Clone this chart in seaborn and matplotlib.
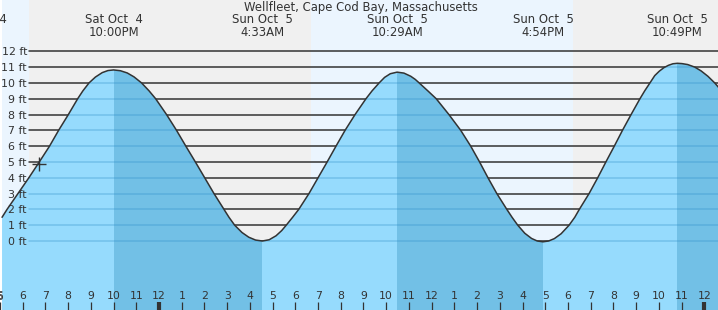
import matplotlib
matplotlib.use("Agg")
import matplotlib.pyplot as plt
import matplotlib.transforms as mtransforms
import seaborn as sns

sns.set_style("white")
plt.rcParams["font.family"] = ["DejaVu Sans"]

# ---------------- data (hours since Sat Oct 4 00:00, height in ft) ----------------
title = "Wellfleet, Cape Cod Bay, Massachusetts"

tide_hours = [17.09, 17.31, 17.79, 18.27, 18.73, 19.18, 19.58, 20.01, 20.42, 20.65,
              20.92, 21.20, 21.50, 21.75, 22.00, 22.30, 22.60, 22.90, 23.23, 23.56,
              23.85, 24.33, 24.77, 25.18, 25.60, 26.01, 26.42, 26.86, 27.08, 27.33,
              27.65, 27.95, 28.25, 28.55, 28.85, 29.15, 29.40, 29.60, 29.88, 30.15,
              30.60, 31.00, 31.40, 31.79, 32.19, 32.63, 33.11, 33.38, 33.69, 33.93,
              34.18, 34.48, 34.78, 35.08, 35.28, 35.45, 35.83, 36.20, 36.76, 37.28,
              37.72, 38.11, 38.48, 38.87, 39.31, 39.54, 39.79, 40.10, 40.40, 40.65,
              40.90, 41.15, 41.40, 41.70, 42.05, 42.30, 42.50, 42.93, 43.31, 43.67,
              44.04, 44.40, 44.78, 45.17, 45.38, 45.61, 45.82, 46.02, 46.22, 46.42,
              46.62, 46.82, 47.02, 47.27, 47.58, 47.86, 48.16, 48.46, 48.70]
tide_ft = [1.5, 2, 3, 4, 5, 6, 7, 8, 9, 9.5,
           10, 10.37, 10.65, 10.78, 10.82, 10.77, 10.63, 10.38, 10, 9.5,
           9, 8, 7, 6, 5, 4, 3, 2, 1.5, 1,
           0.54, 0.24, 0.06, 0.0, 0.08, 0.33, 0.66, 1, 1.5, 2,
           3, 4, 5, 6, 7, 8, 9, 9.5, 10, 10.35,
           10.58, 10.68, 10.62, 10.42, 10.22, 10, 9.5, 9, 8, 7,
           6, 5, 4, 3, 2, 1.5, 1, 0.49, 0.16, 0.0,
           -0.05, 0.0, 0.15, 0.46, 1, 1.5, 2, 3, 4, 5,
           6, 7, 8, 9, 9.5, 10, 10.46, 10.74, 10.96, 11.11,
           11.21, 11.24, 11.22, 11.16, 11, 10.76, 10.42, 10, 9.6]

extreme_dates = ["Sat Oct  4", "Sat Oct  4", "Sun Oct  5", "Sun Oct  5", "Sun Oct  5", "Sun Oct  5"]
extreme_times = ["4:03PM", "10:00PM", "4:33AM", "10:29AM", "4:54PM", "10:49PM"]
extreme_types = ["L", "H", "L", "H", "L", "H"]

sun_events = [18.28, 30.69, 42.24]          # sunset, sunrise, sunset
now_hour = [18.72]
now_ft = [4.87]

ft_levels = list(range(0, 13))
hour_ticks = list(range(17, 49))

# ---------------- style ----------------
SKY_DAY = "#EBF5FE"
SKY_NIGHT = "#F0F0F0"
WATER = "#96DBFD"
WATER_EBB = "#72C0E6"
INK = "#333333"

X0, X1 = 17.086, 48.605
Y0, Y1 = -4.364, 15.243


def to_hour(date, clock):
    day = int(date.split()[-1])
    hm, ampm = clock[:-2], clock[-2:]
    hh, mm = (int(v) for v in hm.split(":"))
    hh = hh % 12 + (12 if ampm == "PM" else 0)
    return (day - 4) * 24 + hh + mm / 60.0


ext_hours = [to_hour(d, c) for d, c in zip(extreme_dates, extreme_times)]

fig = plt.figure(figsize=(7.18, 3.10), dpi=100)
ax = fig.add_axes([0, 0, 1, 1])
ax.set_xlim(X0, X1)
ax.set_ylim(Y0, Y1)
ax.set_axisbelow(False)
for s in ax.spines.values():
    s.set_visible(False)

# sky (day / night)
bounds = [X0] + sun_events + [X1]
for i in range(len(bounds) - 1):
    ax.axvspan(bounds[i], bounds[i + 1], color=SKY_DAY if i % 2 == 0 else SKY_NIGHT,
               lw=0, zorder=0)

# grid lines
for v in ft_levels:
    ax.axhline(v, xmin=29 / 718, xmax=1, color=INK, lw=1.1, zorder=1)

# water
water = ax.fill_between(tide_hours, tide_ft, Y0 - 1, color=WATER, lw=0, zorder=2)
clip_path = water.get_paths()[0]

# ebbing (high -> next low) water is darker
for i, typ in enumerate(extreme_types):
    if typ == "H":
        end = ext_hours[i + 1] if i + 1 < len(ext_hours) else X1 + 1
        span = ax.axvspan(ext_hours[i], end, color=WATER_EBB, lw=0, zorder=2.1)
        span.set_clip_path(clip_path, ax.transData)

for v in ft_levels:
    ln = ax.axhline(v, xmin=29 / 718, xmax=1, color="#2E8FC8", alpha=0.35, lw=1.1, zorder=2.2)
    ln.set_clip_path(clip_path, ax.transData)

# tide curve
sns.lineplot(x=tide_hours, y=tide_ft, color=INK, lw=1.1, zorder=4, ax=ax)
ax.plot(now_hour, now_ft, marker="+", ms=10, mew=1.0, color=INK, ls="none", zorder=5)

# y labels
ytrans = mtransforms.blended_transform_factory(ax.transAxes, ax.transData)
for v in ft_levels:
    ax.text(27 / 718, v, f"{v} ft", transform=ytrans, ha="right", va="center_baseline",
            fontsize=7.9, color=INK, zorder=6)

# x ticks (hours)
ax.set_yticks([])
ax.set_xticks(hour_ticks)
ax.set_xticklabels([str(h % 12 if h % 12 else 12) for h in hour_ticks])
ax.tick_params(axis="x", direction="in", length=5.8, width=0.9, color=INK,
               labelcolor=INK, labelsize=7.8, pad=-13.8, bottom=True)
for tick, h in zip(ax.xaxis.get_major_ticks(), hour_ticks):
    if h % 24 == 0:
        tick.tick1line.set_markeredgewidth(3)
xtrans = mtransforms.blended_transform_factory(ax.transData, ax.transAxes)
for h in hour_ticks:
    if h < X0:
        ax.text(h, 1 - 292 / 310, str(h % 12 if h % 12 else 12), transform=xtrans,
                ha="center", va="top", fontsize=7.8, color=INK, clip_on=False)

# tide extreme labels
for t, d, c in zip(ext_hours, extreme_dates, extreme_times):
    ax.text(t, 1 - 23.3 / 310, d, transform=xtrans, ha="center", va="baseline",
            fontsize=8.4, color=INK, zorder=6, clip_on=False)
    ax.text(t, 1 - 36 / 310, c, transform=xtrans, ha="center", va="baseline",
            fontsize=8.4, color=INK, zorder=6, clip_on=False)

fig.text(0.502, 1 - 10.5 / 310, title, ha="center", va="baseline", fontsize=8.4, color=INK)

fig.savefig("out.png", dpi=100)
